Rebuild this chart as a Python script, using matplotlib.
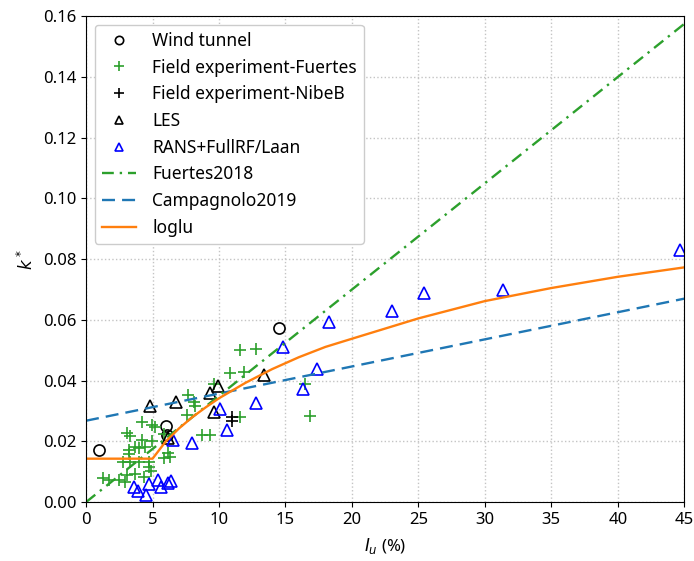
import matplotlib
matplotlib.use("Agg")
import matplotlib.pyplot as plt

plt.rcParams['font.family'] = ['Noto Sans', 'DejaVu Sans']

# Wind tunnel measurements
wt_I = [1.0, 6.0, 6.1, 14.5]
wt_k = [0.0171, 0.0250, 0.0222, 0.0575]

# Field experiment - Fuertes
fu_I = [11.6, 12.8, 10.8, 11.9, 11.6, 16.85, 16.5, 7.7, 8.1, 7.6, 8.7, 9.35, 9.6,
        4.2, 4.95, 5.2, 3.05, 3.3, 4.2, 3.7, 3.2, 3.95, 4.45, 4.95, 5.9, 6.2,
        5.85, 6.35, 2.8, 3.3, 3.95, 4.7, 4.7, 4.9, 1.3, 1.7, 2.45, 3.05, 3.7,
        2.95, 4.35, 3.2, 8.2]
fu_k = [0.0500, 0.0505, 0.0424, 0.0428, 0.0281, 0.0285, 0.0390, 0.0352, 0.0330,
        0.0286, 0.0220, 0.0220, 0.0388, 0.0263, 0.0253, 0.0246, 0.0226, 0.0217,
        0.0204, 0.0182, 0.0173, 0.0177, 0.0182, 0.0202, 0.0224, 0.0163, 0.0144,
        0.0149, 0.0133, 0.0133, 0.0133, 0.0133, 0.0115, 0.0102, 0.0078, 0.0072,
        0.0072, 0.0089, 0.0094, 0.0066, 0.0083, 0.0160, 0.0316]

# Field experiment - NibeB
nb_I = [11.0, 11.0]
nb_k = [0.0280, 0.0266]

# LES results
les_I = [4.8, 6.75, 9.3, 9.95, 9.6, 13.4, 6.2]
les_k = [0.0318, 0.0330, 0.0360, 0.0382, 0.0296, 0.0418, 0.0212]

# RANS+FullRF/Laan results
rans_I = [3.6, 3.9, 4.5, 4.7, 5.4, 5.6, 6.2, 6.4, 6.57, 7.95, 10.6, 10.05,
          12.8, 16.3, 17.4, 14.8, 18.3, 23.0, 25.4, 31.4, 44.7]
rans_k = [0.0050, 0.0035, 0.0025, 0.0058, 0.0074, 0.0050, 0.0062, 0.0071,
          0.0205, 0.0194, 0.0237, 0.0305, 0.0326, 0.0371, 0.0437, 0.0510,
          0.0594, 0.0629, 0.0690, 0.0698, 0.0830]

# Fitted models
fuertes_I = [0, 45]
fuertes_k = [0.0, 0.1575]
campa_I = [0, 45]
campa_k = [0.0268, 0.0670]
loglu_I = [0, 5, 6, 7, 8, 9, 10, 12, 14, 16, 18, 20, 25, 30, 35, 40, 45]
loglu_k = [0.0143, 0.0143, 0.0200, 0.0243, 0.0280, 0.0312, 0.0342, 0.0393,
           0.0438, 0.0477, 0.0511, 0.0538, 0.0605, 0.0662, 0.0705, 0.0742, 0.0773]

x_ticks = [0, 5, 10, 15, 20, 25, 30, 35, 40, 45]
y_ticks = [0.00, 0.02, 0.04, 0.06, 0.08, 0.10, 0.12, 0.14, 0.16]

fig = plt.figure(figsize=(6.94, 5.61), dpi=100)
ax = fig.add_axes([0.124, 0.105, 0.862, 0.866])

ax.plot(wt_I, wt_k, 'o', mfc='none', mec='black', ms=8, mew=1.2, label='Wind tunnel')
ax.plot(fu_I, fu_k, '+', color='#2ca02c', ms=9, mew=1.2, label='Field experiment-Fuertes')
ax.plot(nb_I, nb_k, '+', color='black', ms=9, mew=1.2, label='Field experiment-NibeB')
ax.plot(les_I, les_k, '^', mfc='none', mec='black', ms=8, mew=1.2, label='LES')
ax.plot(rans_I, rans_k, '^', mfc='none', mec='blue', ms=8, mew=1.2, label='RANS+FullRF/Laan')
ax.plot(fuertes_I, fuertes_k, color='#2ca02c', lw=1.7,
        dashes=(5, 2.5, 1, 2.5), label='Fuertes2018')
ax.plot(campa_I, campa_k, color='#1f77b4', lw=1.7, dashes=(5.5, 3),
        label='Campagnolo2019')
ax.plot(loglu_I, loglu_k, '-', color='#ff7f0e', lw=1.7, label='loglu')

ax.set_xlim(0, 45)
ax.set_ylim(0, 0.16)
ax.set_xticks(x_ticks)
ax.set_yticks(y_ticks)
ax.set_yticklabels([f'{v:.2f}' for v in y_ticks])
ax.tick_params(labelsize=12)
ax.grid(True, linestyle=':', color='#c4c4c4', lw=1)
ax.set_xlabel(r'$I_u$ (%)', fontsize=12, labelpad=6)
ax.set_ylabel(r'$k^*$', fontsize=12)

ax.legend(loc='upper left', fontsize=12.5, markerscale=0.75, framealpha=1,
          borderpad=0.4, labelspacing=0.5, handletextpad=0.9)

fig.savefig('out.png', dpi=100)
